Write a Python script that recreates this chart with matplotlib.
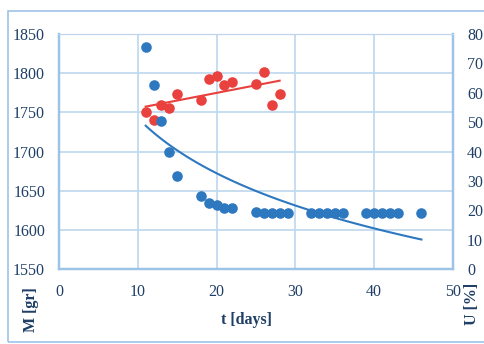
import matplotlib.pyplot as plt
from matplotlib.patches import Rectangle
import numpy as np

# Dados
dias_m = [11, 12, 13, 14, 15, 18, 19, 20, 21, 22, 25, 26, 27, 28]
massa = [1751, 1740, 1759, 1756, 1774, 1766, 1793, 1797, 1785, 1789, 1786, 1801, 1759, 1774]

dias_u = [11, 12, 13, 14, 15, 18, 19, 20, 21, 22, 25, 26, 27, 28, 29,
          32, 33, 34, 35, 36, 39, 40, 41, 42, 43, 46]
umidade = [75.5, 62.6, 50.3, 40.0, 31.7, 24.7, 22.3, 21.8, 20.7, 20.7, 19.5, 19.0, 19.0, 19.0, 19.0,
           19.0, 19.0, 19.0, 19.0, 19.0, 19.0, 19.0, 19.0, 19.0, 19.0, 19.2]

xticks = [0, 10, 20, 30, 40, 50]
m_ticks = [1550, 1600, 1650, 1700, 1750, 1800, 1850]
u_ticks = [0, 10, 20, 30, 40, 50, 60, 70, 80]

azul = '#2E78C0'
vermelho = '#E8413E'
grade = '#BDD7EE'
eixo = '#9DC3E6'
texto = '#1F3F66'

plt.rcParams['font.family'] = ['Liberation Serif', 'DejaVu Serif']

fig = plt.figure(figsize=(4.85, 3.44), dpi=100)
fig.patches.append(Rectangle((8 / 485, 2 / 344), 1.0, 331 / 344, transform=fig.transFigure,
                             fill=False, edgecolor=eixo, lw=1.2))

ax = fig.add_axes([59 / 485, 1 - 269 / 344, 394 / 485, 235 / 344])
ax2 = ax.twinx()

ax.set_xlim(0, 50)
ax.set_ylim(1550, 1850)
ax2.set_ylim(0, 80)
ax.set_xticks(xticks)
ax.set_yticks(m_ticks)
ax2.set_yticks(u_ticks)
ax.grid(True, color=grade, lw=1.2)
ax.set_axisbelow(True)

for a in (ax, ax2):
    for lado in ('left', 'right', 'bottom'):
        a.spines[lado].set_color(eixo)
        a.spines[lado].set_linewidth(1.6)
    a.spines['top'].set_color(grade)
    a.tick_params(length=0, labelsize=11.5, labelcolor=texto)
ax.tick_params(axis='x', pad=11)
ax.tick_params(axis='y', pad=10)
ax2.tick_params(axis='y', pad=10)

# Linha de tendência linear da massa
coef = np.polyfit(dias_m, massa, 1)
tm = np.array([dias_m[0], dias_m[-1]])
ax.plot(tm, np.polyval(coef, tm), color=vermelho, lw=1.5, zorder=3)
ax.scatter(dias_m, massa, s=58, color=vermelho, zorder=4, linewidths=0)

# Linha de tendência logarítmica da umidade
coef_u = np.polyfit(np.log(dias_u), umidade, 1)
tu = np.linspace(dias_u[0], dias_u[-1], 100)
ax2.plot(tu, np.polyval(coef_u, np.log(tu)), color=azul, lw=1.5, zorder=3)
ax2.scatter(dias_u, umidade, s=58, color=azul, zorder=4, linewidths=0)

fig.text(247 / 485, 1 - 320 / 344, 't [days]', ha='center', va='center',
         fontsize=11.5, fontweight='bold', color=texto)
fig.text(31 / 485, 1 - 310 / 344, 'M [gr]', ha='center', va='center', rotation=90,
         fontsize=11.5, fontweight='bold', color=texto)
fig.text(472 / 485, 1 - 304 / 344, 'U [%]', ha='center', va='center', rotation=90,
         fontsize=11.5, fontweight='bold', color=texto)

fig.savefig('out.png', dpi=100)
